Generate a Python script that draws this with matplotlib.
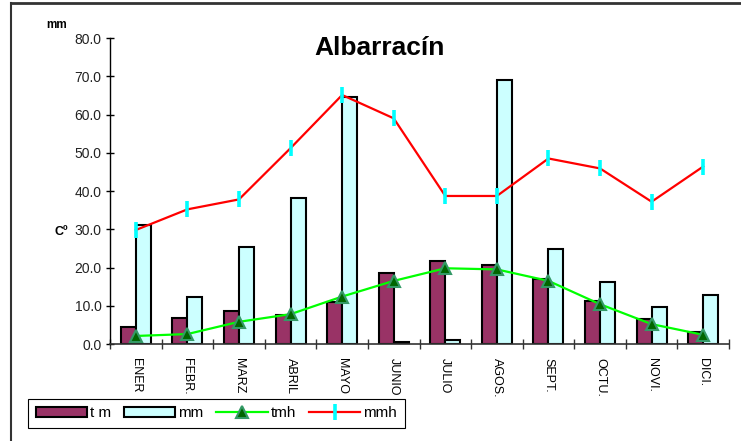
import matplotlib
matplotlib.use("Agg")
import matplotlib.pyplot as plt
from matplotlib.lines import Line2D
from matplotlib.patches import Patch
import numpy as np

plt.rcParams['font.family'] = ['Liberation Sans', 'DejaVu Sans']

months = ["ENER", "FEBR.", "MARZ", "ABRIL", "MAYO", "JUNIO", "JULIO",
          "AGOS.", "SEPT.", "OCTU.", "NOVI.", "DICI."]
t_m = [4.4, 6.9, 8.6, 7.6, 10.9, 18.5, 21.6, 20.6, 17.0, 11.3, 6.5, 3.2]
mm = [31.2, 12.3, 25.4, 38.3, 64.5, 0.5, 1.0, 69.0, 24.8, 16.3, 9.6, 12.7]
tmh = [2.1, 2.6, 5.8, 7.8, 12.4, 16.5, 19.8, 19.5, 16.5, 10.4, 5.2, 2.4]
mmh = [29.8, 35.2, 37.8, 51.2, 65.1, 59.0, 38.7, 38.7, 48.5, 45.9, 37.2, 46.4]
yticks = [0, 10, 20, 30, 40, 50, 60, 70, 80]

W, H = 741, 441
fig = plt.figure(figsize=(W / 100, H / 100), dpi=100)
ax = fig.add_axes([110 / W, 1 - 344 / H, (729 - 110) / W, (344 - 38) / H])

x = np.arange(len(months)) + 0.5
bw = 0.29
ax.bar(x - bw / 2, t_m, width=bw, color='#993366', edgecolor='black', linewidth=1.5, zorder=2)
ax.bar(x + bw / 2, mm, width=bw, color='#CCFFFF', edgecolor='black', linewidth=1.5, zorder=2)
ax.plot(x, mmh, color='#FF0000', linewidth=1.6, marker='|', markersize=11,
        markeredgewidth=2.6, markeredgecolor='#00FFFF', zorder=3)
ax.plot(x, tmh, color='#00FF00', linewidth=1.6, marker='^', markersize=9,
        markerfacecolor='#006600', markeredgecolor='#339966', markeredgewidth=1.5, zorder=4)

ax.set_xlim(0, len(months))
ax.set_ylim(0, 80)
ax.set_yticks(yticks)
ax.set_yticklabels([f"{v:.1f}" for v in yticks], fontsize=10, color='#222222')
ax.tick_params(axis='y', direction='inout', length=6, width=1, pad=3)
ax.set_xticks(np.arange(0, len(months) + 1), minor=False)
ax.set_xticklabels([])
ax.tick_params(axis='x', which='major', direction='inout', length=7, width=1, color='#333333')
ax.set_xticks(x, minor=True)
ax.set_xticklabels(months, minor=True, rotation=270, fontsize=9, va='top', ha='center')
ax.tick_params(axis='x', which='minor', length=0, pad=10)

for s in ['top', 'right']:
    ax.spines[s].set_visible(False)
ax.spines['left'].set_linewidth(1)
ax.spines['bottom'].set_linewidth(1.2)
ax.spines['bottom'].set_color('#333333')

fig.text(380 / W, 1 - 48 / H, "Albarracín", fontsize=19, fontweight='bold',
         ha='center', va='center')
fig.text(57 / W, 1 - 25 / H, "mm", fontsize=8.5, fontweight='bold', ha='center', va='center')
fig.text(61 / W, 1 - 232 / H, "Cº", fontsize=9, fontweight='bold', ha='center', va='center')

handles = [
    Patch(facecolor='#993366', edgecolor='black', linewidth=1.5),
    Patch(facecolor='#CCFFFF', edgecolor='black', linewidth=1.5),
    Line2D([], [], color='#00FF00', linewidth=1.6, marker='^', markersize=9,
           markerfacecolor='#006600', markeredgecolor='#339966', markeredgewidth=1.5),
    Line2D([], [], color='#FF0000', linewidth=1.6, marker='|', markersize=11,
           markeredgewidth=2.6, markeredgecolor='#00FFFF'),
]
leg = fig.legend(handles, ["t m", "mm", "tmh", "mmh"], ncol=4, fontsize=11,
                 loc='lower left', bbox_to_anchor=(28 / W, 1 - 428 / H),
                 frameon=True, fancybox=False, edgecolor='black', framealpha=1,
                 handlelength=3.35, handleheight=0.7, handletextpad=0.2,
                 columnspacing=0.85, borderpad=0.5, borderaxespad=0)
leg.get_frame().set_linewidth(0.8)

# outer frame (top and left edges)
fig.add_artist(Line2D([11 / W, 1], [1 - 3 / H, 1 - 3 / H], color='#333333', linewidth=2))
fig.add_artist(Line2D([11 / W, 11 / W], [0, 1 - 3 / H], color='#333333', linewidth=1.5))

fig.savefig("out.png", dpi=100)
